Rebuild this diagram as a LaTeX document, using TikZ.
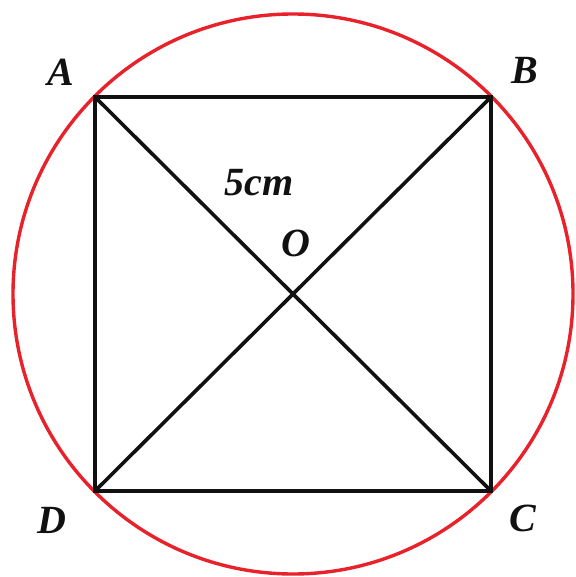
\documentclass[tikz,border=0pt]{standalone}
\usepackage{fontspec}
\setmainfont{Liberation Serif}
\usepackage{tikz}
\usetikzlibrary{positioning}
\definecolor{CircleRed}{HTML}{E8212B}
\definecolor{Ink}{HTML}{111111}

\tikzset{
  edge/.style={draw=Ink,line width=1.8pt},
  ptlabel/.style={text=Ink,font=\fontsize{20}{24}\selectfont\bfseries\itshape,inner sep=0pt}
}

\begin{document}
\begin{tikzpicture}[x=0.5pt,y=-0.5pt]
  \useasboundingbox (0,0) rectangle (576,577);
  % square and centre
  \coordinate (A) at (95,97);
  \coordinate (B) at (491,97);
  \coordinate (C) at (491,491);
  \coordinate (D) at (95,491);
  \coordinate (O) at (293,294);
  % circumscribed circle
  \draw[CircleRed,line width=1.7pt] (O) circle (140pt);
  \draw[edge] (A) -- (B) -- (C) -- (D) -- cycle;
  \draw[edge] (A) -- (C);
  \draw[edge] (B) -- (D);
  % labels
  \node[ptlabel] (lA) at (61,72) {A};
  \node[ptlabel] (lB) at (525,70) {B};
  \node[ptlabel] (lC) at (523,518) {C};
  \node[ptlabel] (lD) at (52,520) {D};
  \node[ptlabel] (lO) at (296,243) {O};
  \node[ptlabel] (lr) at (259,183) {5cm};
\end{tikzpicture}
\end{document}
